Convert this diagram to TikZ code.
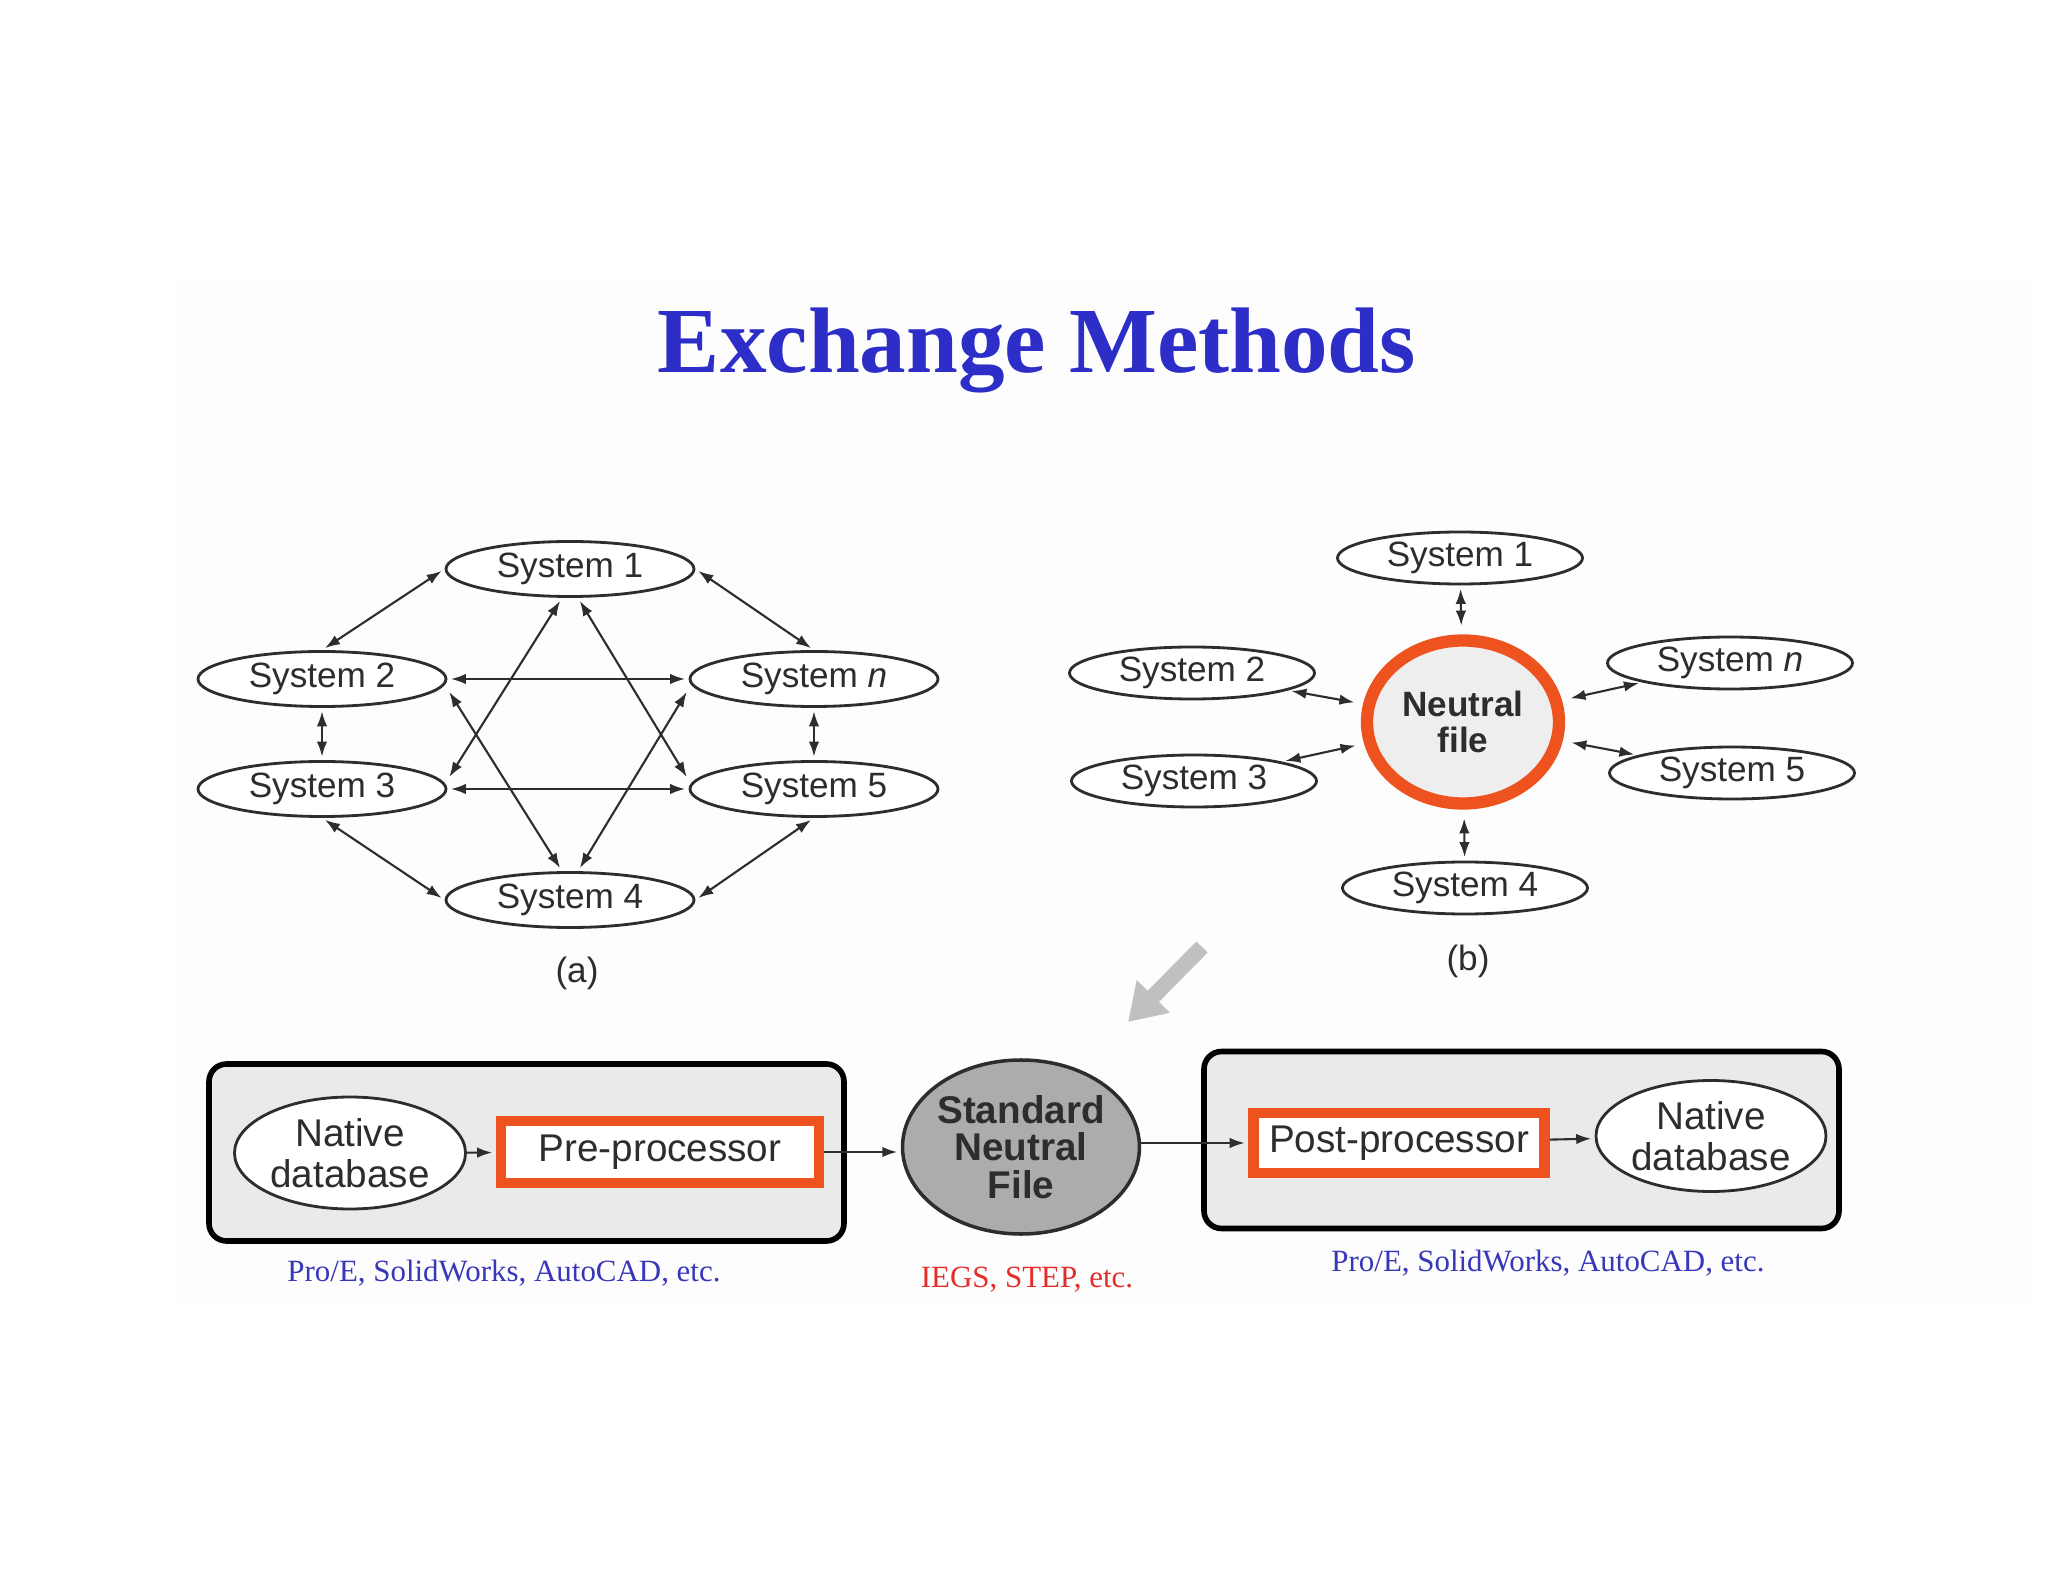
\documentclass[tikz,border=0pt]{standalone}
\usepackage{fontspec}
\setmainfont{Liberation Sans}
\newfontfamily\seriffont{Liberation Serif}
\usetikzlibrary{arrows.meta,shapes.geometric}
\definecolor{titleblue}{RGB}{45,45,200}
\definecolor{capblue}{RGB}{55,55,185}
\definecolor{capred}{RGB}{228,45,40}
\definecolor{hlorange}{RGB}{238,82,30}
\definecolor{ink}{RGB}{45,45,45}
\definecolor{slidebg}{RGB}{253,253,253}
\definecolor{boxgray}{RGB}{234,234,234}
\definecolor{nfgray}{RGB}{238,238,238}
\definecolor{snfgray}{RGB}{172,172,172}
\definecolor{arrowgray}{RGB}{192,192,192}
\begin{document}
\begin{tikzpicture}[x=1cm,y=1cm,
  sys/.style={ellipse, draw=ink, line width=0.8pt, fill=white, minimum width=2.48cm, minimum height=0.55cm, inner sep=0pt, font=\fontsize{10}{12}\selectfont, text=ink},
  sysb/.style={sys, minimum width=2.45cm, minimum height=0.52cm},
  tip/.tip={Latex[length=1.5mm,width=1.05mm]},
  link/.style={draw=ink, line width=0.6pt, tip-tip, shorten <=1pt, shorten >=1pt},
  nflink/.style={link, shorten >=2.5pt},
  flow/.style={draw=ink, line width=0.6pt, -tip, shorten >=1pt},
  bigbox/.style={draw=black, line width=1.6pt, rounded corners=5pt, fill=boxgray, minimum width=6.35cm, minimum height=1.77cm, inner sep=0pt},
  native/.style={ellipse, draw=ink, line width=0.8pt, fill=white, minimum width=2.31cm, minimum height=1.12cm, inner sep=0pt, align=center, font=\fontsize{11}{11.5}\selectfont, text=ink},
  proc/.style={draw=hlorange, line width=3pt, fill=white, inner sep=0pt, font=\fontsize{11}{13}\selectfont, text=ink},
  caption/.style={font=\seriffont\fontsize{8.8}{10}\selectfont},
  sublabel/.style={font=\fontsize{10}{12}\selectfont, text=ink}
]
\useasboundingbox (0,0) rectangle (20.48,-15.82);
\fill[white] (0,0) rectangle (20.48,-15.82);
\fill[slidebg] (1.77,-2.80) rectangle (20.31,-13.06);

% title
\node[font=\seriffont\bfseries\fontsize{26.5}{30}\selectfont, text=titleblue] (title) at (10.37,-3.50) {Exchange Methods};

% ---------- (a) ----------
\node[sys] (s1) at (5.70,-5.69) {System 1};
\node[sys] (s2) at (3.22,-6.79) {System 2};
\node[sys] (sn) at (8.14,-6.79) {System \textit{n}};
\node[sys] (s3) at (3.22,-7.89) {System 3};
\node[sys] (s5) at (8.14,-7.89) {System 5};
\node[sys] (s4) at (5.70,-9.00) {System 4};
\node[sublabel] (la) at (5.77,-9.73) {(a)};

\draw[link] (s1.west) -- (s2.north);
\draw[link] (s1.east) -- (sn.north);
\draw[link] (s2.east) -- (sn.west);
\draw[link] (s3.east) -- (s5.west);
\draw[link] (s2.south) -- (s3.north);
\draw[link] (sn.south) -- (s5.north);
\draw[link] (s3.south) -- (s4.west);
\draw[link] (s5.south) -- (s4.east);
\draw[link] ([xshift=-0.08cm]s1.south) -- ([yshift=0.09cm]s3.east);
\draw[link] ([xshift=0.08cm]s1.south) -- ([yshift=0.09cm]s5.west);
\draw[link] ([yshift=-0.1cm]s2.east) -- ([xshift=-0.08cm]s4.north);
\draw[link] ([yshift=-0.1cm]sn.west) -- ([xshift=0.08cm]s4.north);

% ---------- (b) ----------
\node[ellipse, draw=hlorange, line width=3.5pt, fill=nfgray, minimum width=1.92cm, minimum height=1.63cm, inner sep=0pt, align=center, font=\bfseries\fontsize{10}{10.2}\selectfont, text=ink] (nf) at (14.63,-7.22) {Neutral\\file};
\node[sysb] (s1b) at (14.60,-5.58) {System 1};
\node[sysb] (s2b) at (11.92,-6.73) {System 2};
\node[sysb] (s3b) at (11.94,-7.81) {System 3};
\node[sysb] (snb) at (17.30,-6.63) {System \textit{n}};
\node[sysb] (s5b) at (17.32,-7.73) {System 5};
\node[sysb] (s4b) at (14.65,-8.88) {System 4};
\node[sublabel] (lb) at (14.68,-9.61) {(b)};

\draw[nflink] (s1b) -- (nf);
\draw[nflink] (s2b) -- (nf);
\draw[nflink] (s3b) -- (nf);
\draw[nflink] (snb) -- (nf);
\draw[nflink] (s5b) -- (nf);
\draw[nflink] (s4b) -- (nf);

% gray pointer arrow
\coordinate (gA) at (12.02,-9.47);
\coordinate (gB) at (11.28,-10.22);
\draw[arrowgray, line width=4.5pt, -{Triangle[length=3.6mm,width=4.4mm]}] (gA) -- (gB);

% ---------- bottom ----------
\node[bigbox] (lbox) at (5.265,-11.525) {};
\node[bigbox] (rbox) at (15.215,-11.40) {};

\node[native] (ndl) at (3.50,-11.53) {Native\\database};
\node[proc, minimum width=3.18cm, minimum height=0.62cm] (pre) at (6.60,-11.52) {Pre-processor};
\node[ellipse, draw=ink, line width=1pt, fill=snfgray, minimum width=2.29cm, minimum height=1.74cm, inner sep=0pt, align=center, font=\bfseries\fontsize{11}{10.6}\selectfont, text=ink] (snf) at (10.21,-11.47) {Standard\\Neutral\\File};
\node[proc, minimum width=2.91cm, minimum height=0.60cm] (post) at (13.99,-11.43) {Post-processor};
\node[native, minimum width=2.30cm, minimum height=1.11cm] (ndr) at (17.11,-11.36) {Native\\database};

\draw[flow] (ndl) -- (pre);
\draw[flow] (pre.east) -- (pre.east -| snf.west);
\draw[flow] (snf.east |- post.west) -- (post.west);
\draw[flow] (post) -- (ndr);

\node[caption, text=capblue] (capl) at (5.04,-12.73) {Pro/E, SolidWorks, AutoCAD, etc.};
\node[caption, text=capred] (capm) at (10.27,-12.80) {IEGS, STEP, etc.};
\node[caption, text=capblue] (capr) at (15.48,-12.63) {Pro/E, SolidWorks, AutoCAD, etc.};
\end{tikzpicture}
\end{document}
